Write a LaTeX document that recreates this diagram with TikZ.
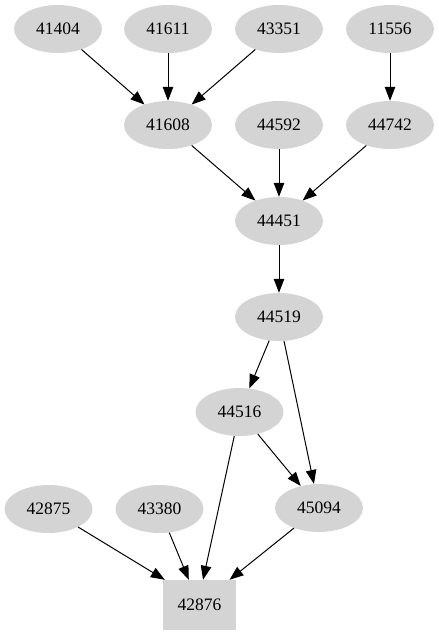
\documentclass[tikz,border=0pt]{standalone}
\usepackage{fontspec}
\setmainfont{Liberation Serif}
\usetikzlibrary{arrows.meta,shapes.geometric}

\begin{document}
\begin{tikzpicture}[x=1pt,y=-1pt,>={Triangle[length=14pt,width=10.5pt]},
  font=\fontsize{17.5}{20}\selectfont,
  blob/.style={ellipse,fill=black!17,inner sep=0pt,minimum width=88pt,minimum height=48pt},
  sink/.style={rectangle,fill=black!17,inner sep=0pt,minimum width=73pt,minimum height=50pt},
  link/.style={->,line width=1pt}]
  \useasboundingbox (0,0) rectangle (439,635);

  % ================= top rows =================
  \node[blob] (n41404) at (58,29)  {41404};
  \node[blob] (n41611) at (168,29) {41611};
  \node[blob] (n43351) at (279,29) {43351};
  \node[blob] (n11556) at (390,29) {11556};

  \node[blob] (n41608) at (168,125) {41608};
  \node[blob] (n44592) at (279,125) {44592};
  \node[blob] (n44742) at (390,125) {44742};

  % ================= middle chain =================
  \node[blob] (n44451) at (279,221) {44451};
  \node[blob] (n44519) at (279,317) {44519};
  \node[blob] (n44516) at (239.5,412) {44516};
  \node[blob] (n45094) at (319,508) {45094};

  % ================= bottom row =================
  \node[blob] (n42875) at (48.5,509)  {42875};
  \node[blob] (n43380) at (159.5,509) {43380};
  \node[sink] (n42876) at (199.5,605) {42876};

  % edges
  \draw[link] (n41404) -- (n41608);
  \draw[link] (n41611) -- (n41608);
  \draw[link] (n43351) -- (n41608);
  \draw[link] (n11556) -- (n44742);

  \draw[link] (n41608) -- (n44451);
  \draw[link] (n44592) -- (n44451);
  \draw[link] (n44742) -- (n44451);
  \draw[link] (n44451) -- (n44519);

  \draw[link] (n44519) -- (n44516);
  \draw[link] (n44519) -- (n45094);
  \draw[link] (n44516) -- (n45094);

  % edges into the sink (spread along its top side)
  \draw[link] (n42875) -- (n42876.144);
  \draw[link] (n43380) -- (n42876.113);
  \draw[link] (n44516) -- (n42876.82);
  \draw[link] (n45094) -- (n42876.40);
\end{tikzpicture}
\end{document}
